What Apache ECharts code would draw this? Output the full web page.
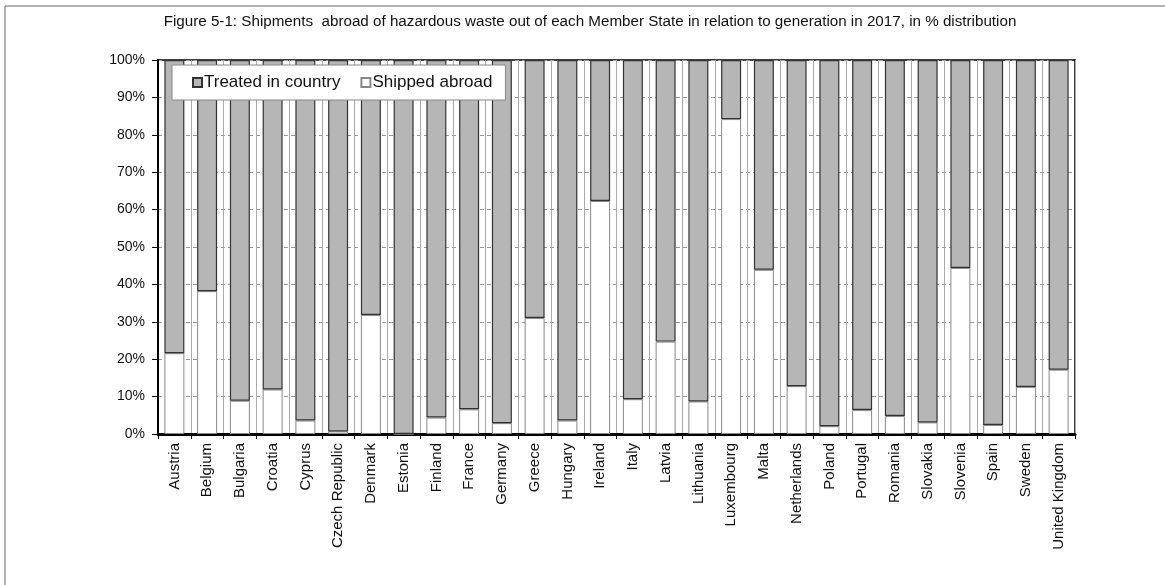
<!DOCTYPE html>
<html>
<head>
<meta charset="utf-8">
<script src="https://cdn.jsdelivr.net/npm/echarts@6/dist/echarts.min.js"></script>
<style>html,body{margin:0;padding:0;background:#fff}#c{width:1165px;height:585px}</style>
</head>
<body>
<div id="c"></div>
<script>
const titleText = 'Figure 5-1: Shipments  abroad of hazardous waste out of each Member State in relation to generation in 2017, in % distribution';
const categories = ['Austria','Belgium','Bulgaria','Croatia','Cyprus','Czech Republic','Denmark','Estonia','Finland','France','Germany','Greece','Hungary','Ireland','Italy','Latvia','Lithuania','Luxembourg','Malta','Netherlands','Poland','Portugal','Romania','Slovakia','Slovenia','Spain','Sweden','United Kingdom'];
const shippedAbroad = [21.6,38.2,8.9,11.9,3.6,0.7,31.8,0,4.4,6.6,2.9,31.0,3.6,62.3,9.3,24.7,8.7,84.2,43.9,12.8,2.1,6.4,4.8,3.1,44.4,2.4,12.6,17.2];
const treatedInCountry = [78.4,61.8,91.1,88.1,96.4,99.3,68.2,100,95.6,93.4,97.1,69.0,96.4,37.7,90.7,75.3,91.3,15.8,56.1,87.2,97.9,93.6,95.2,96.9,55.6,97.6,87.4,82.8];
const yTicks = [0,10,20,30,40,50,60,70,80,90,100];

const chart = echarts.init(document.getElementById('c'), null, {renderer:'canvas'});
const font = 'Arial, "Liberation Sans", sans-serif';
chart.setOption({
  animation:false,
  backgroundColor:'#fff',
  title:{
    text:titleText, left:585, top:9, textAlign:'center',
    textStyle:{fontFamily:font, fontSize:15.2, fontWeight:'normal', color:'#111'}
  },
  graphic:[
    {type:'polyline', shape:{points:[[5,600],[5,6],[1200,6]]}, style:{stroke:'#666', lineWidth:1, fill:null}, silent:true}
  ],
  legend:{
    data:['Treated in country','Shipped abroad'],
    left:172, top:65, height:36,
    padding:[9,13,9,20],
    backgroundColor:'#fff', borderColor:'#888', borderWidth:1,
    itemWidth:9, itemHeight:9, itemGap:20,
    textStyle:{fontFamily:font, fontSize:17, color:'#111', padding:[0,0,0,-3]},
    icon:'rect'
  },
  grid:{left:158, right:90, top:60, bottom:151, show:true, borderColor:'#000', borderWidth:1.5, backgroundColor:'transparent'},
  xAxis:{
    type:'category', data:categories,
    axisLine:{lineStyle:{color:'#000', width:3}},
    axisTick:{show:true, length:5, lineStyle:{color:'#000'}},
    splitLine:{show:true, lineStyle:{color:'#aaa', width:1}},
    axisLabel:{rotate:90, interval:0, fontFamily:font, fontSize:15, color:'#111', margin:9}
  },
  yAxis:{
    type:'value', min:0, max:100, interval:10,
    axisLine:{show:true, lineStyle:{color:'#000', width:2}},
    axisTick:{show:true, inside:false, length:6, lineStyle:{color:'#000'}},
    splitLine:{show:true, lineStyle:{color:'#999', type:[4,3], width:1}},
    axisLabel:{fontFamily:font, fontSize:14, color:'#111', margin:13, formatter: v => yTicks.includes(v) ? v + '%' : ''}
  },
  series:[
    {name:'Shipped abroad', type:'bar', stack:'s', data:shippedAbroad, barCategoryGap:'39%',
     itemStyle:{color:'#fff', borderColor:'#888', borderWidth:1}},
    {name:'Treated in country', type:'bar', stack:'s', data:treatedInCountry, barCategoryGap:'39%',
     itemStyle:{color:'#b6b6b6', borderColor:'#333', borderWidth:1.2}}
  ]
});
</script>
</body>
</html>
